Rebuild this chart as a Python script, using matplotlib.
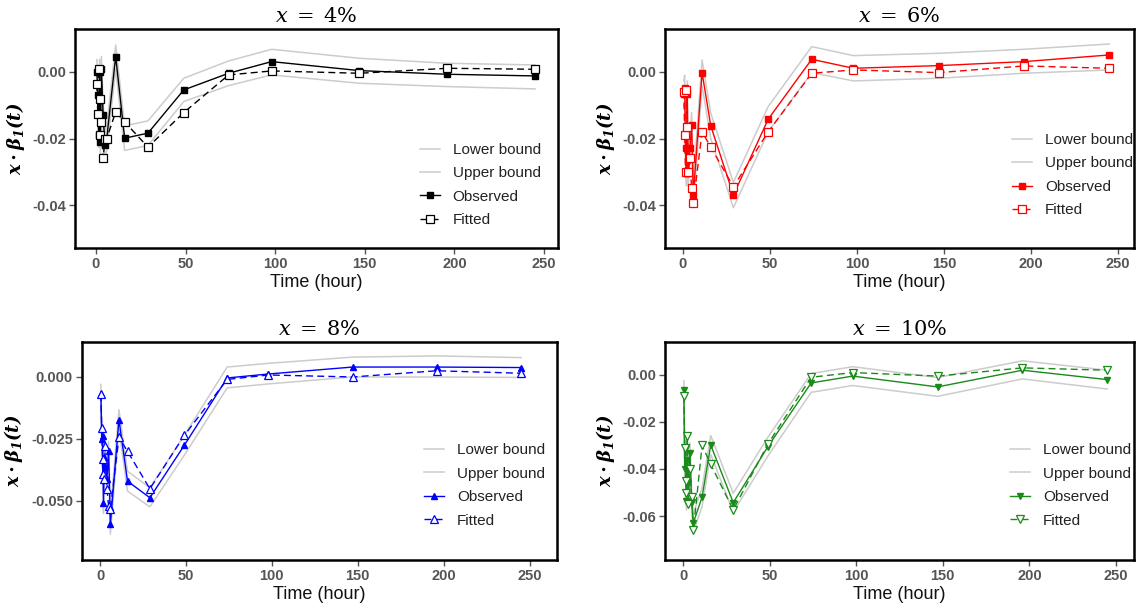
import matplotlib
matplotlib.use("Agg")
import matplotlib.pyplot as plt

plt.rcParams['font.family'] = ['Liberation Sans', 'DejaVu Sans']
plt.rcParams['mathtext.fontset'] = 'dejavuserif'
plt.rcParams['axes.unicode_minus'] = False

hours = [0.5, 1, 1.5, 2, 2.5, 3, 4, 5, 6, 11, 16, 29, 49, 74, 98, 147, 196, 245]

obs_4 = [0.000, -0.007, -0.019, 0.000, -0.021, 0.001, -0.013, -0.022, -0.020, 0.0046,
         -0.0199, -0.0184, -0.0054, -0.0004, 0.0031, 0.0004, -0.0007, -0.0012]
fit_4 = [-0.0036, -0.0126, 0.001, -0.019, -0.008, -0.015, -0.026, -0.020, -0.020, -0.012,
         -0.015, -0.0226, -0.0122, -0.0009, 0.0003, -0.0004, 0.0011, 0.0008]
low_4 = [-0.0037, -0.0107, -0.0227, -0.0037, -0.0247, -0.0027, -0.0167, -0.0257, -0.0237, 0.0009,
         -0.0236, -0.0221, -0.0089, -0.0041, -0.0009, -0.0034, -0.0044, -0.0051]
up_4 = [0.0037, -0.0033, -0.0153, 0.0037, -0.0173, 0.0047, -0.0093, -0.0183, -0.0163, 0.0081,
        -0.0162, -0.0147, -0.0019, 0.0033, 0.0068, 0.0041, 0.0026, 0.0021]

obs_6 = [-0.0066, -0.0048, -0.023, -0.0304, -0.0065, -0.0305, -0.023, -0.016, -0.037, -0.0002,
         -0.0162, -0.037, -0.0142, 0.0038, 0.0011, 0.0019, 0.0031, 0.0051]
fit_6 = [-0.0059, -0.019, -0.030, -0.0055, -0.0164, -0.030, -0.026, -0.035, -0.0393, -0.018,
         -0.0226, -0.0345, -0.018, -0.0004, 0.0006, -0.0002, 0.0018, 0.0011]
low_6 = [-0.0104, -0.0086, -0.0268, -0.0342, -0.0103, -0.0343, -0.0268, -0.0198, -0.0408, -0.0040,
         -0.0200, -0.0408, -0.0180, -0.0002, -0.0027, -0.0019, -0.0004, 0.0006]
up_6 = [-0.0028, -0.0010, -0.0192, -0.0266, -0.0027, -0.0267, -0.0192, -0.0122, -0.0332, 0.0036,
        -0.0124, -0.0332, -0.0104, 0.0076, 0.0049, 0.0056, 0.0068, 0.0084]

obs_8 = [-0.0070, -0.025, -0.024, -0.051, -0.0324, -0.036, -0.041, -0.030, -0.0594, -0.0172,
         -0.042, -0.0487, -0.0276, -0.0004, 0.0012, 0.0040, 0.0040, 0.0038]
fit_8 = [-0.0070, -0.0207, -0.039, -0.033, -0.041, -0.028, -0.045, -0.052, -0.0533, -0.0243,
         -0.030, -0.0451, -0.0236, -0.0010, 0.0008, 0.0000, 0.0025, 0.0015]
low_8 = [-0.0110, -0.0290, -0.0280, -0.0550, -0.0364, -0.0400, -0.0450, -0.0340, -0.0634, -0.0212,
         -0.0460, -0.0524, -0.0316, -0.0044, -0.0028, 0.0000, 0.0000, -0.0002]
up_8 = [-0.0030, -0.0210, -0.0200, -0.0470, -0.0284, -0.0320, -0.0370, -0.0260, -0.0554, -0.0132,
        -0.0380, -0.0447, -0.0236, 0.0040, 0.0055, 0.0080, 0.0085, 0.0078]

obs_10 = [-0.0064, -0.040, -0.031, -0.0535, -0.036, -0.046, -0.033, -0.054, -0.0628, -0.052,
          -0.0298, -0.0543, -0.0305, -0.0034, -0.0005, -0.0051, 0.0020, -0.0020]
fit_10 = [-0.0089, -0.031, -0.045, -0.050, -0.026, -0.055, -0.040, -0.052, -0.066, -0.030,
          -0.038, -0.0574, -0.0294, -0.0010, 0.0010, -0.0005, 0.0030, 0.0020]
low_10 = [-0.0104, -0.0440, -0.0350, -0.0575, -0.0400, -0.0500, -0.0370, -0.0580, -0.0668, -0.0560,
          -0.0338, -0.0583, -0.0345, -0.0074, -0.0045, -0.0091, -0.0017, -0.0060]
up_10 = [-0.0024, -0.0360, -0.0270, -0.0495, -0.0320, -0.0420, -0.0290, -0.0500, -0.0588, -0.0480,
         -0.0258, -0.0503, -0.0265, 0.0006, 0.0035, -0.0011, 0.0060, 0.0020]

panels = [
    dict(title=r'$x\;=\;4\%$', obs=obs_4, fit=fit_4, low=low_4, up=up_4, color='black', marker='s',
         pos=[75, 29, 558, 248], xlim=(-11.7, 257.8), ylim=(-0.0529, 0.0129),
         yticks=[0.0, -0.02, -0.04], fmt='{:.2f}', leg=(0.714, 0.48)),
    dict(title=r'$x\;=\;6\%$', obs=obs_6, fit=fit_6, low=low_6, up=up_6, color='#ff0000', marker='s',
         pos=[665, 29, 1134, 248], xlim=(-10.3, 259.2), ylim=(-0.0529, 0.0129),
         yticks=[0.0, -0.02, -0.04], fmt='{:.2f}', leg=(0.74, 0.525)),
    dict(title=r'$x\;=\;8\%$', obs=obs_8, fit=fit_8, low=low_8, up=up_8, color='#0000ff', marker='^',
         pos=[82, 342, 557, 560], xlim=(-10.5, 266), ylim=(-0.0738, 0.0141),
         yticks=[0.0, -0.025, -0.05], fmt='{:.3f}', leg=(0.72, 0.535)),
    dict(title=r'$x\;=\;10\%$', obs=obs_10, fit=fit_10, low=low_10, up=up_10, color='#1a8a1a', marker='v',
         pos=[665, 342, 1134, 560], xlim=(-10.4, 260.4), ylim=(-0.0787, 0.014),
         yticks=[0.0, -0.02, -0.04, -0.06], fmt='{:.2f}', leg=(0.736, 0.535)),
]

W, H = 1136, 610
fig = plt.figure(figsize=(W / 100, H / 100), dpi=100)

for p in panels:
    l, t, r, b = p['pos']
    ax = fig.add_axes([l / W, 1 - b / H, (r - l) / W, (b - t) / H])
    c = p['color']
    ax.plot(hours, p['low'], color='#cccccc', lw=1.1, label='Lower bound', zorder=1)
    ax.plot(hours, p['up'], color='#cccccc', lw=1.1, label='Upper bound', zorder=1)
    ax.plot(hours, p['obs'], color=c, lw=1.0, marker=p['marker'], ms=4.5,
            markerfacecolor=c, markeredgecolor=c, label='Observed', zorder=3)
    ax.plot(hours, p['fit'], color=c, lw=1.0, ls=(0, (5, 3)), marker=p['marker'], ms=5.2,
            markerfacecolor='white', markeredgecolor=c, markeredgewidth=0.9, label='Fitted', zorder=4)
    ax.set_xlim(*p['xlim'])
    ax.set_ylim(*p['ylim'])
    ax.set_xticks([0, 50, 100, 150, 200, 250])
    ax.set_yticks(p['yticks'])
    ax.set_yticklabels([p['fmt'].format(v) for v in p['yticks']])
    ax.tick_params(axis='both', direction='out', length=4, width=1, color='#555555',
                   labelcolor='#555555', labelsize=10.5, pad=2.5)
    for lab in ax.get_xticklabels() + ax.get_yticklabels():
        lab.set_fontweight('bold')
    for s in ax.spines.values():
        s.set_linewidth(1.8)
        s.set_color('black')
    ax.set_title(p['title'], fontsize=15, pad=5)
    ax.set_xlabel('Time (hour)', fontsize=13, color='#111111', labelpad=2)
    ax.set_ylabel(r'$\mathbfit{x\cdot\beta_1(t)}$', fontsize=13, labelpad=4)
    ax.legend(loc='upper left', bbox_to_anchor=p['leg'], frameon=False, fontsize=11,
              borderpad=0, borderaxespad=0, labelspacing=0.62, handlelength=1.3,
              handletextpad=0.85, labelcolor='#222222')

fig.savefig('out.png', dpi=100)
